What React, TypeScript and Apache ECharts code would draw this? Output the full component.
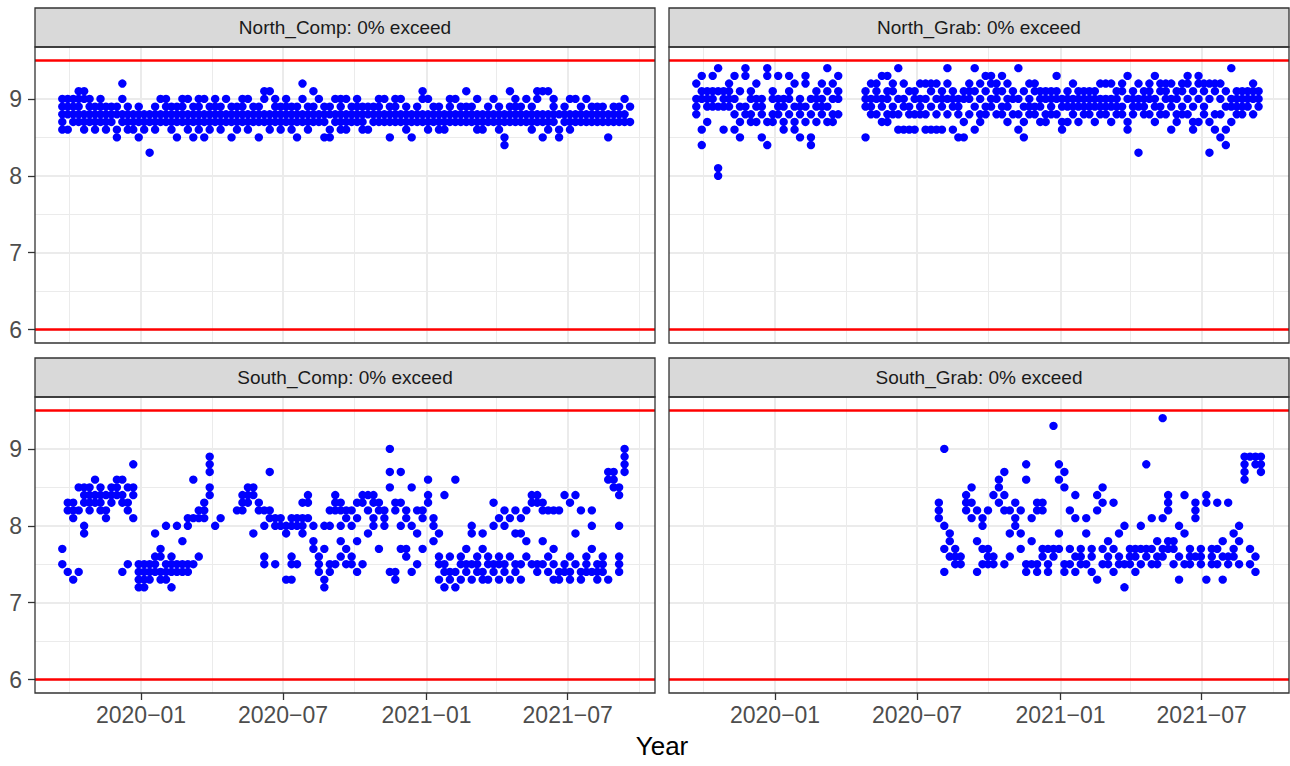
import { useEffect, useRef } from "react";
import * as echarts from "echarts";

// Weekly sampling dates shared by North_Comp, North_Grab and South_Comp
const weeks = [
  "2019-09-22", "2019-09-29", "2019-10-06", "2019-10-13", "2019-10-20", "2019-10-27", "2019-11-03", "2019-11-10",
  "2019-11-17", "2019-11-24", "2019-12-01", "2019-12-08", "2019-12-15", "2019-12-22", "2019-12-29",
  "2020-01-05", "2020-01-12", "2020-01-19", "2020-01-26", "2020-02-02", "2020-02-09", "2020-02-16", "2020-02-23",
  "2020-03-01", "2020-03-08", "2020-03-15", "2020-03-22", "2020-03-29", "2020-04-05", "2020-04-12", "2020-04-19",
  "2020-04-26", "2020-05-03", "2020-05-10", "2020-05-17", "2020-05-24", "2020-05-31", "2020-06-07", "2020-06-14",
  "2020-06-21", "2020-06-28", "2020-07-05", "2020-07-12", "2020-07-19", "2020-07-26", "2020-08-02", "2020-08-09",
  "2020-08-16", "2020-08-23", "2020-08-30", "2020-09-06", "2020-09-13", "2020-09-20", "2020-09-27", "2020-10-04",
  "2020-10-11", "2020-10-18", "2020-10-25", "2020-11-01", "2020-11-08", "2020-11-15", "2020-11-22", "2020-11-29",
  "2020-12-06", "2020-12-13", "2020-12-20", "2020-12-27",
  "2021-01-03", "2021-01-10", "2021-01-17", "2021-01-24", "2021-01-31", "2021-02-07", "2021-02-14", "2021-02-21",
  "2021-02-28", "2021-03-07", "2021-03-14", "2021-03-21", "2021-03-28", "2021-04-04", "2021-04-11", "2021-04-18",
  "2021-04-25", "2021-05-02", "2021-05-09", "2021-05-16", "2021-05-23", "2021-05-30", "2021-06-06", "2021-06-13",
  "2021-06-20", "2021-06-27", "2021-07-04", "2021-07-11", "2021-07-18", "2021-07-25", "2021-08-01", "2021-08-08",
  "2021-08-15", "2021-08-22", "2021-08-29", "2021-09-05", "2021-09-12", "2021-09-19",
];

// pH readings per week
const northComp = [
  [8.6, 8.7, 8.8, 8.9, 9.0], [8.6, 8.8, 8.9, 9.0], [8.7, 8.8, 8.9, 9.0], [8.7, 8.8, 8.9, 9.0, 9.1], [8.6, 8.7, 8.8, 9.0, 9.1],
  [8.7, 8.8, 8.9, 9.0], [8.6, 8.7, 8.8, 8.9], [8.7, 8.8, 8.9, 9.0], [8.6, 8.7, 8.8, 8.9], [8.7, 8.8, 8.9],
  [8.5, 8.6, 8.8, 8.9], [8.7, 8.8, 9.0, 9.2], [8.6, 8.7, 8.8, 8.9], [8.6, 8.7, 8.8], [8.5, 8.7, 8.8, 8.9],
  [8.6, 8.7, 8.8], [8.3, 8.7, 8.8], [8.6, 8.7, 8.8, 8.9], [8.7, 8.8, 9.0], [8.7, 8.8, 8.9, 9.0],
  [8.6, 8.7, 8.8, 8.9], [8.5, 8.7, 8.8, 8.9], [8.7, 8.8, 8.9, 9.0], [8.6, 8.7, 8.8, 9.0], [8.5, 8.7, 8.8, 8.9],
  [8.6, 8.7, 8.8, 8.9, 9.0], [8.5, 8.7, 8.8, 9.0], [8.6, 8.7, 8.8, 8.9], [8.7, 8.8, 8.9, 9.0], [8.6, 8.7, 8.8, 8.9],
  [8.7, 8.8, 9.0], [8.5, 8.7, 8.8, 8.9], [8.6, 8.7, 8.8, 8.9], [8.7, 8.8, 8.9, 9.0], [8.6, 8.7, 8.8, 9.0],
  [8.7, 8.8, 8.9], [8.5, 8.7, 8.8, 8.9], [8.7, 8.8, 9.0, 9.1], [8.6, 8.7, 8.8, 9.1], [8.7, 8.8, 8.9, 9.0],
  [8.6, 8.7, 8.8, 8.9], [8.7, 8.8, 8.9, 9.0], [8.6, 8.7, 8.8, 8.9], [8.5, 8.7, 8.8, 8.9], [8.7, 8.8, 9.0, 9.2],
  [8.6, 8.7, 8.8, 8.9], [8.7, 8.8, 8.9, 9.1], [8.7, 8.8, 9.0], [8.5, 8.7, 8.8, 8.9], [8.5, 8.6, 8.8, 8.9],
  [8.7, 8.8, 9.0], [8.6, 8.7, 8.8, 8.9, 9.0], [8.6, 8.7, 8.8, 9.0], [8.7, 8.8, 8.9], [8.7, 8.8, 8.9, 9.0],
  [8.6, 8.7, 8.8, 8.9], [8.6, 8.8, 8.9], [8.7, 8.8, 8.9], [8.7, 8.8, 8.9, 9.0], [8.7, 8.8, 9.0],
  [8.5, 8.7, 8.8, 8.9], [8.7, 8.8, 8.9, 9.0], [8.7, 8.8, 9.0], [8.6, 8.7, 8.8, 8.9], [8.5, 8.7, 8.8],
  [8.7, 8.8, 8.9], [8.7, 8.8, 9.0, 9.1], [8.6, 8.7, 8.8, 9.0], [8.7, 8.8, 8.9], [8.6, 8.7, 8.8, 8.9],
  [8.6, 8.7, 8.8], [8.7, 8.8, 8.9, 9.0], [8.7, 8.8, 9.0], [8.7, 8.8, 8.9], [8.7, 8.8, 8.9, 9.1],
  [8.7, 8.8, 8.9], [8.6, 8.7, 8.8, 9.0], [8.6, 8.7, 8.8], [8.7, 8.8, 8.9], [8.7, 8.8, 9.0],
  [8.6, 8.7, 8.8, 8.9], [8.4, 8.5, 8.7, 8.8], [8.7, 8.8, 8.9, 9.1], [8.7, 8.8, 8.9, 9.0], [8.7, 8.8, 8.9],
  [8.7, 8.8, 9.0], [8.6, 8.7, 8.8, 8.9], [8.7, 8.8, 9.0, 9.1], [8.5, 8.7, 8.8, 9.1], [8.6, 8.7, 8.8, 9.1],
  [8.7, 8.8, 8.9, 9.0], [8.5, 8.6, 8.8], [8.7, 8.8, 8.9], [8.6, 8.7, 8.8, 9.0], [8.7, 8.8, 9.0],
  [8.7, 8.8, 8.9], [8.7, 8.8, 9.0], [8.7, 8.8, 8.9], [8.7, 8.8, 8.9], [8.7, 8.8, 8.9],
  [8.5, 8.7, 8.8], [8.7, 8.8, 8.9], [8.7, 8.8, 8.9], [8.7, 8.8, 9.0], [8.7, 8.9],
];

const northGrab = [
  [8.8, 8.9, 9.0, 9.2], [8.4, 8.6, 9.0, 9.1, 9.3], [8.7, 8.9, 9.0, 9.1], [8.9, 9.0, 9.1, 9.3], [8.0, 8.1, 8.9, 9.1, 9.4],
  [8.6, 8.9, 9.0, 9.1], [8.9, 9.0, 9.1, 9.2], [8.6, 8.8, 9.0, 9.3], [8.5, 8.7, 8.9, 9.1], [8.8, 8.9, 9.3, 9.4],
  [8.7, 8.8, 9.0, 9.1], [8.7, 8.9, 9.0, 9.2], [8.5, 8.8, 8.9, 9.0], [8.4, 8.7, 9.3, 9.4], [8.7, 8.8, 9.0, 9.1],
  [8.8, 8.9, 9.0, 9.3], [8.6, 8.7, 8.9, 9.0], [8.8, 9.0, 9.1, 9.3], [8.6, 8.7, 8.9, 9.2], [8.5, 8.8, 8.9, 9.0],
  [8.7, 8.9, 9.2, 9.3], [8.4, 8.5, 8.8, 9.0], [8.7, 8.9, 9.0, 9.1], [8.8, 8.9, 9.0, 9.2], [8.7, 8.9, 9.1, 9.4],
  [8.7, 8.8, 9.0, 9.2], [8.8, 9.0, 9.1, 9.3], [], [], [],
  [], [8.5, 8.9, 9.0, 9.1], [8.8, 8.9, 9.0, 9.2], [8.8, 9.0, 9.1, 9.2], [8.7, 8.9, 9.0, 9.3],
  [8.7, 8.8, 9.0, 9.1, 9.3], [8.8, 8.9, 9.1, 9.2], [8.6, 8.8, 9.0, 9.4], [8.6, 8.9, 9.0, 9.2], [8.6, 8.8, 8.9, 9.1],
  [8.6, 8.8, 9.0, 9.1], [8.8, 8.9, 9.0, 9.2], [8.6, 8.8, 9.0, 9.2], [8.6, 8.9, 9.1, 9.2], [8.6, 8.8, 9.0, 9.2],
  [8.6, 8.9, 9.0, 9.1], [8.8, 9.0, 9.2, 9.4], [8.6, 8.9, 9.0, 9.1], [8.5, 8.8, 8.9, 9.0], [8.5, 8.7, 9.0, 9.1],
  [8.8, 9.0, 9.1, 9.2], [8.6, 8.9, 9.1, 9.4], [8.7, 8.8, 9.0, 9.2], [8.8, 8.9, 9.1, 9.3], [8.9, 9.0, 9.2, 9.3],
  [8.8, 9.0, 9.1, 9.2], [8.8, 8.9, 9.1, 9.3], [8.7, 8.9, 9.0, 9.2], [8.8, 9.0, 9.1], [8.6, 8.8, 9.0, 9.4],
  [8.5, 8.7, 8.9, 9.1], [8.8, 8.9, 9.0, 9.2], [8.8, 8.9, 9.1, 9.2], [8.7, 8.9, 9.0, 9.1], [8.7, 8.8, 9.0, 9.1],
  [8.8, 8.9, 9.0, 9.1], [8.8, 9.0, 9.1, 9.3], [8.6, 8.7, 8.9, 9.0], [8.7, 8.9, 9.0, 9.1], [8.8, 8.9, 9.0, 9.2],
  [8.7, 8.9, 9.0, 9.1], [8.8, 8.9, 9.0, 9.1], [8.8, 8.9, 9.0, 9.1], [8.7, 8.9, 9.0, 9.1], [8.8, 8.9, 9.0, 9.2],
  [8.8, 8.9, 9.0, 9.2], [8.7, 8.9, 9.0, 9.2], [8.8, 8.9, 9.0, 9.1], [8.8, 8.9, 9.1, 9.2], [8.6, 8.7, 9.0, 9.3],
  [8.8, 8.9, 9.0, 9.1], [8.3, 8.9, 9.0, 9.2], [8.8, 8.9, 9.0, 9.1], [8.8, 9.0, 9.1, 9.2], [8.7, 8.9, 9.0, 9.3],
  [8.8, 8.9, 9.1, 9.2], [8.8, 9.0, 9.1, 9.2], [8.6, 8.9, 9.0, 9.2], [8.7, 8.8, 9.0, 9.1], [8.8, 8.9, 9.1, 9.2],
  [8.8, 9.0, 9.2, 9.3], [8.6, 8.7, 8.9, 9.1], [8.7, 9.0, 9.2, 9.3], [8.8, 8.9, 9.1, 9.2], [8.3, 8.7, 9.0, 9.2],
  [8.6, 8.8, 9.1, 9.2], [8.5, 8.8, 9.0, 9.2], [8.4, 8.6, 8.9, 9.1], [8.7, 8.9, 9.0, 9.4], [8.8, 8.9, 9.0, 9.1],
  [8.8, 8.9, 9.0, 9.1], [8.9, 9.0, 9.1], [8.8, 9.0, 9.1, 9.2], [8.9, 9.0, 9.1], [],
];

const southComp = [
  [7.5, 7.7], [7.4, 8.2, 8.3], [7.3, 8.1, 8.2, 8.3], [7.4, 8.2, 8.5], [7.9, 8.0, 8.3, 8.4, 8.5],
  [8.2, 8.3, 8.4, 8.5], [8.3, 8.4, 8.6], [8.2, 8.3, 8.4, 8.5], [8.1, 8.2, 8.4], [8.3, 8.4, 8.5],
  [8.4, 8.5, 8.6], [7.4, 8.3, 8.4, 8.6], [7.5, 8.2, 8.3, 8.5], [8.1, 8.4, 8.5, 8.8], [7.2, 7.3, 7.4, 7.5],
  [7.2, 7.3, 7.4, 7.5], [7.3, 7.4, 7.5], [7.4, 7.5, 7.6, 7.9], [7.3, 7.4, 7.6, 7.7], [7.3, 7.4, 7.5, 8.0],
  [7.2, 7.4, 7.5, 7.6], [7.4, 7.5, 8.0], [7.4, 7.5, 7.8], [7.4, 7.5, 8.0, 8.1], [7.5, 8.1, 8.6],
  [7.6, 8.1, 8.2], [8.1, 8.2, 8.3], [8.4, 8.5, 8.7, 8.8, 8.9], [8.0], [8.1],
  [], [], [8.2], [8.2, 8.3, 8.4], [8.3, 8.4, 8.5],
  [7.9, 8.4, 8.5], [8.2, 8.3], [7.5, 7.6, 8.0, 8.2], [8.1, 8.2, 8.7], [7.5, 8.0, 8.1],
  [8.0, 8.1], [7.3, 7.9, 8.0], [7.3, 7.5, 7.6, 8.0, 8.1], [7.5, 8.0, 8.1], [7.9, 8.0, 8.1, 8.3],
  [8.1, 8.3, 8.4], [7.7, 7.8, 8.0], [7.4, 7.5, 7.6], [7.2, 7.3, 7.7, 8.0], [7.4, 7.5, 8.0, 8.2],
  [7.5, 8.2, 8.3, 8.4], [7.6, 7.8, 8.0, 8.2, 8.3], [7.5, 7.7, 8.1, 8.2], [7.5, 7.6, 8.0, 8.2], [7.4, 7.8, 8.1, 8.3],
  [7.5, 8.3, 8.4], [7.9, 8.2, 8.4], [8.0, 8.1, 8.3, 8.4], [7.7, 8.2, 8.3], [8.0, 8.1, 8.2],
  [7.4, 8.5, 8.7, 9.0], [7.3, 7.4, 8.2, 8.3], [7.7, 8.0, 8.3, 8.7], [7.6, 7.7, 8.1, 8.2], [7.4, 8.0, 8.5],
  [7.5, 7.9, 8.2], [7.7, 8.1, 8.2], [8.3, 8.4, 8.6], [7.8, 8.0, 8.1], [7.3, 7.5, 7.6, 7.9],
  [7.2, 7.4, 7.5, 8.4], [7.3, 7.4, 7.6], [7.2, 7.4, 8.6], [7.3, 7.5, 7.6], [7.4, 7.5, 7.7],
  [7.3, 7.5, 7.9, 8.0], [7.4, 7.5, 7.6], [7.3, 7.4, 7.7, 7.9], [7.3, 7.5, 7.6], [7.4, 7.5, 8.0, 8.3],
  [7.3, 7.5, 7.6, 8.1], [7.4, 7.5, 8.0, 8.2], [7.3, 7.6, 8.1], [7.4, 7.5, 7.9, 8.2], [7.3, 7.5, 7.9, 8.1],
  [7.6, 7.8, 8.2], [7.5, 8.3, 8.4], [7.4, 7.5, 8.3, 8.4], [7.5, 7.8, 8.2, 8.3], [7.4, 7.6, 8.2],
  [7.3, 7.5, 7.7, 8.2], [7.3, 7.4, 8.2], [7.4, 7.5, 8.4], [7.3, 7.4, 7.6, 8.3], [7.5, 7.9, 8.4],
  [7.3, 7.4, 8.2], [7.4, 7.5, 7.6], [7.4, 7.7, 8.0, 8.2], [7.3, 7.4, 7.5], [7.4, 7.5, 7.6],
  [7.3, 8.6, 8.7], [8.5, 8.6, 8.7], [7.4, 7.5, 7.6, 8.0, 8.4, 8.5], [8.7, 8.8, 8.9, 9.0], [],
];

// South_Grab sampling began in late July 2020
const southGrabWeeks = [
  "2020-07-29", "2020-08-05", "2020-08-12", "2020-08-19", "2020-08-26", "2020-09-02", "2020-09-09", "2020-09-16",
  "2020-09-23", "2020-09-30", "2020-10-07", "2020-10-14", "2020-10-21", "2020-10-28", "2020-11-04", "2020-11-11",
  "2020-11-18", "2020-11-25", "2020-12-02", "2020-12-09", "2020-12-16", "2020-12-23", "2020-12-30",
  "2021-01-06", "2021-01-13", "2021-01-20", "2021-01-27", "2021-02-03", "2021-02-10", "2021-02-17", "2021-02-24",
  "2021-03-03", "2021-03-10", "2021-03-17", "2021-03-24", "2021-03-31", "2021-04-07", "2021-04-14", "2021-04-21",
  "2021-04-28", "2021-05-05", "2021-05-12", "2021-05-19", "2021-05-26", "2021-06-02", "2021-06-09", "2021-06-16",
  "2021-06-23", "2021-06-30", "2021-07-07", "2021-07-14", "2021-07-21", "2021-07-28", "2021-08-04", "2021-08-11",
  "2021-08-18", "2021-08-25", "2021-09-01", "2021-09-08", "2021-09-15",
];

const southGrab = [
  [8.1, 8.2, 8.3], [7.4, 7.7, 8.0, 9.0], [7.6, 7.8, 7.9], [7.5, 7.6, 7.7], [7.5, 7.6],
  [8.2, 8.3, 8.4], [8.1, 8.3, 8.5], [7.4, 7.8, 8.2], [7.5, 7.7, 8.0, 8.1], [7.5, 7.6, 7.7, 8.2],
  [7.5, 7.6, 8.4], [8.3, 8.5, 8.6], [7.5, 8.2, 8.4, 8.7], [7.6, 7.9, 8.2], [8.0, 8.1, 8.3],
  [7.7, 7.9, 8.2], [7.4, 7.5, 8.6, 8.8], [7.5, 7.8, 8.1], [7.4, 7.5, 8.2, 8.3], [7.6, 7.7, 8.2, 8.3],
  [7.4, 7.5, 7.7], [7.6, 7.7, 9.3], [7.7, 7.9, 8.6, 8.8], [7.4, 7.5, 8.5, 8.7], [7.5, 7.7, 8.2],
  [7.4, 7.6, 8.1, 8.4], [7.5, 7.6, 7.7], [7.5, 7.9, 8.1], [7.4, 7.6, 7.7], [7.3, 8.2, 8.4],
  [7.5, 7.7, 8.3, 8.5], [7.5, 7.6, 7.8], [7.4, 7.7, 8.3], [7.5, 7.6, 7.9], [7.2, 7.5, 8.0],
  [7.5, 7.6, 7.7], [7.4, 7.6, 7.7], [7.5, 7.7, 8.0], [7.6, 7.7, 8.8], [7.5, 7.7, 8.1],
  [7.5, 7.6, 7.8], [7.6, 7.7, 8.1, 9.4], [7.7, 7.8, 8.2, 8.3, 8.4], [7.5, 7.7, 7.8], [7.3, 7.6, 8.0],
  [7.5, 7.9, 8.4], [7.5, 7.6, 7.7], [7.6, 8.1, 8.2, 8.3], [7.5, 7.6, 7.7], [7.3, 8.3, 8.4],
  [7.5, 7.6, 7.7], [7.5, 7.7, 8.3], [7.3, 7.6, 7.8], [7.5, 7.6, 8.3], [7.6, 7.7, 7.9],
  [7.5, 7.8, 8.0], [8.6, 8.7, 8.8, 8.9], [7.5, 7.7, 8.9], [7.4, 7.6, 8.8, 8.9], [8.7, 8.8, 8.9],
];

const panelTitles = ["North_Comp: 0% exceed", "North_Grab: 0% exceed", "South_Comp: 0% exceed", "South_Grab: 0% exceed"];
const limitLines = [6, 9.5];
const yTicks = [6, 7, 8, 9];
const yMinor = [6.5, 7.5, 8.5, 9.5];
const xTicks = ["2020-01-01", "2020-07-01", "2021-01-01", "2021-07-01"];
const xMinor = ["2019-10-01", "2020-04-01", "2020-10-01", "2021-04-01", "2021-10-01"];
const xRange = ["2019-08-18", "2021-10-21"];
const yRange = [5.825, 9.675];

const FONT = "'Liberation Sans', Arial, Helvetica, sans-serif";

function toTime(s: string): number {
  const [y, m, d] = s.split("-").map(Number);
  return new Date(y, m - 1, d).getTime();
}

function toPoints(dates: string[], values: number[][]): [number, number][] {
  const out: [number, number][] = [];
  values.forEach((vals, i) => {
    if (i >= dates.length) return;
    const t = toTime(dates[i]);
    vals.forEach((v) => out.push([t, v]));
  });
  return out;
}

export default function App() {
  const ref = useRef<HTMLDivElement>(null);

  useEffect(() => {
    if (!ref.current) return;
    const chart = echarts.init(ref.current, undefined, { renderer: "svg" });

    const panelData = [
      toPoints(weeks, northComp),
      toPoints(weeks, northGrab),
      toPoints(weeks, southComp),
      toPoints(southGrabWeeks, southGrab),
    ];

    const W = 620;
    const H = 296;
    const stripH = 39;
    const boxes = [
      { left: 35, top: 47 },
      { left: 669, top: 47 },
      { left: 35, top: 397 },
      { left: 669, top: 397 },
    ];

    const xTickTs = xTicks.map(toTime);
    const fmtMonth = (v: number) => {
      const d = new Date(v);
      return `${d.getFullYear()}\u2212${String(d.getMonth() + 1).padStart(2, "0")}`;
    };

    const grids = boxes.map((b) => ({
      left: b.left,
      top: b.top,
      width: W,
      height: H,
      show: true,
      backgroundColor: "#FFFFFF",
      borderWidth: 0,
      containLabel: false,
    }));

    // Dates are plotted as millisecond timestamps on a linear axis
    const xAxes = boxes.map((_, i) => {
      const bottom = i >= 2;
      return {
        type: "value",
        gridIndex: i,
        min: toTime(xRange[0]),
        max: toTime(xRange[1]),
        splitLine: { show: false },
        axisLine: { show: false },
        axisTick: {
          show: bottom,
          length: 7,
          customValues: xTickTs,
          lineStyle: { color: "#333333", width: 1.3 },
        },
        axisLabel: {
          show: bottom,
          customValues: xTickTs,
          formatter: fmtMonth,
          fontSize: 23,
          color: "#4D4D4D",
          fontFamily: FONT,
          margin: 10,
        },
      };
    });

    const yAxes = boxes.map((_, i) => {
      const left = i % 2 === 0;
      return {
        type: "value",
        gridIndex: i,
        min: yRange[0],
        max: yRange[1],
        splitLine: { show: false },
        axisLine: { show: false },
        axisTick: {
          show: left,
          length: 7,
          customValues: yTicks,
          lineStyle: { color: "#333333", width: 1.3 },
        },
        axisLabel: {
          show: left,
          customValues: yTicks,
          fontSize: 23,
          color: "#4D4D4D",
          fontFamily: FONT,
          margin: 13,
        },
      };
    });

    const gridLineData = [
      ...yMinor.map((v) => ({ yAxis: v, lineStyle: { color: "#EBEBEB", width: 1, type: "solid" } })),
      ...xMinor.map((s) => ({ xAxis: toTime(s), lineStyle: { color: "#EBEBEB", width: 1, type: "solid" } })),
      ...yTicks.map((v) => ({ yAxis: v, lineStyle: { color: "#EBEBEB", width: 2, type: "solid" } })),
      ...xTickTs.map((t) => ({ xAxis: t, lineStyle: { color: "#EBEBEB", width: 2, type: "solid" } })),
    ];

    const series: any[] = [];
    boxes.forEach((_, i) => {
      series.push({
        type: "line",
        xAxisIndex: i,
        yAxisIndex: i,
        data: [],
        z: 1,
        silent: true,
        markLine: {
          z: 1,
          silent: true,
          symbol: ["none", "none"],
          label: { show: false },
          emphasis: { disabled: true },
          data: gridLineData,
        },
      });
      series.push({
        type: "line",
        xAxisIndex: i,
        yAxisIndex: i,
        data: [],
        z: 2,
        silent: true,
        markLine: {
          z: 2,
          silent: true,
          symbol: ["none", "none"],
          label: { show: false },
          emphasis: { disabled: true },
          lineStyle: { color: "#FF0000", width: 2.6, type: "solid" },
          data: limitLines.map((v) => ({ yAxis: v })),
        },
      });
      series.push({
        type: "scatter",
        xAxisIndex: i,
        yAxisIndex: i,
        z: 10,
        symbol: "circle",
        symbolSize: 8.4,
        itemStyle: { color: "#0000FF", opacity: 1 },
        data: panelData[i],
        silent: true,
      });
    });

    const graphics: any[] = [];
    boxes.forEach((b, i) => {
      graphics.push({
        type: "rect",
        z: 100,
        shape: { x: b.left, y: b.top - stripH, width: W, height: stripH },
        style: { fill: "#D9D9D9", stroke: "#333333", lineWidth: 1.3 },
        silent: true,
      });
      graphics.push({
        type: "text",
        z: 101,
        x: b.left + W / 2,
        y: b.top - stripH / 2,
        style: {
          text: panelTitles[i],
          fill: "#1A1A1A",
          font: `19px ${FONT}`,
          align: "center",
          verticalAlign: "middle",
        },
        silent: true,
      });
      graphics.push({
        type: "rect",
        z: 100,
        shape: { x: b.left, y: b.top, width: W, height: H },
        style: { fill: "none", stroke: "#333333", lineWidth: 1.3 },
        silent: true,
      });
    });
    graphics.push({
      type: "text",
      z: 101,
      x: 662,
      y: 746,
      style: {
        text: "Year",
        fill: "#000000",
        font: `26px ${FONT}`,
        align: "center",
        verticalAlign: "middle",
      },
      silent: true,
    });

    chart.setOption({
      animation: false,
      backgroundColor: "#FFFFFF",
      grid: grids,
      xAxis: xAxes,
      yAxis: yAxes,
      series,
      graphic: graphics,
    });

    return () => chart.dispose();
  }, []);

  return (
    <div
      ref={ref}
      style={{ position: "fixed", left: 0, top: 0, width: 1290, height: 766, background: "#FFFFFF" }}
    />
  );
}
